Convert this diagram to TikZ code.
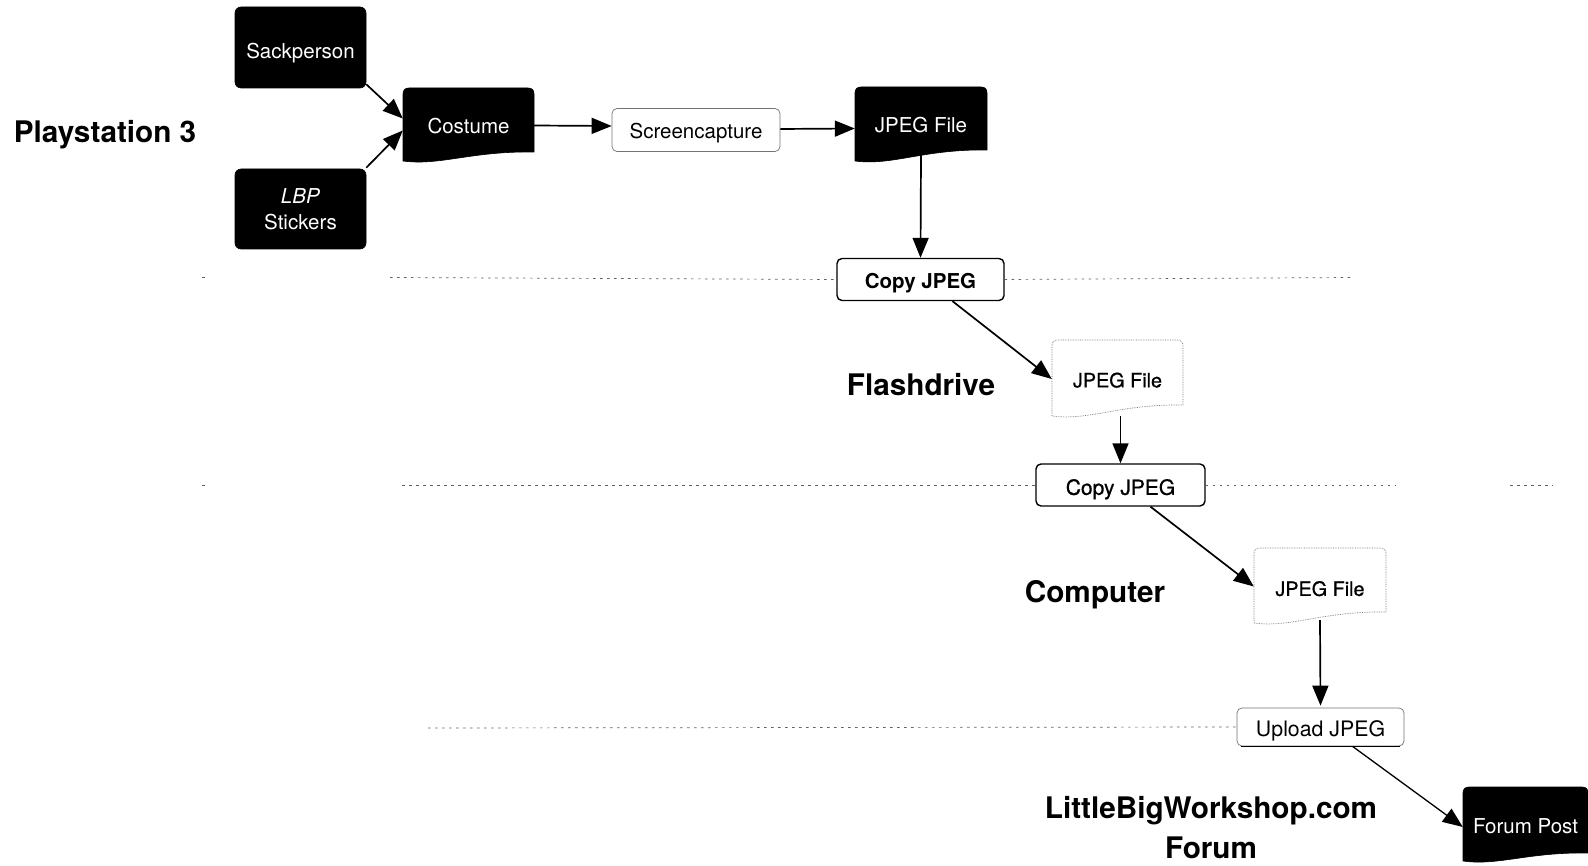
\documentclass[tikz,border=0pt]{standalone}
\usepackage{fontspec}
\setmainfont{TeX Gyre Heros}
\newfontfamily\semib[FakeBold=0.7]{TeX Gyre Heros}
\usetikzlibrary{arrows.meta}
\newcommand{\fsz}[1]{\fontsize{#1}{#1}\selectfont}
\newcommand{\dn}[2]{\raisebox{-#1pt}[\height][0pt]{#2}}
\tikzset{
  x=1pt,y=-1pt,
  arr/.style={line width=1.7pt,draw=black,-{Triangle[length=20pt,width=16pt]},shorten >=0pt},
  arrthin/.style={arr,line width=1.3pt},
  sep/.style={draw=black!62,line width=0.7pt,dash pattern=on 2.5pt off 4.5pt},
  darktext/.style={text=white,font=\fsz{20.5},align=center,inner sep=0pt},
  lighttext/.style={text=black,font=\fsz{20.5},align=center,inner sep=0pt},
  darkbox/.style={fill=black,draw=black,line width=0.6pt,rounded corners=6pt},
  darkdoc/.style={fill=black,draw=black,line width=0.6pt},
  graybox/.style={fill=white,draw=black!55,line width=0.7pt,rounded corners=5pt},
  strongbox/.style={fill=white,draw=black,line width=1.4pt,rounded corners=5pt},
  paperbox/.style={fill=white,draw=black!55,line width=0.7pt,densely dotted},
  heading/.style={font=\bfseries\fsz{29.7},text=black,inner sep=0pt,align=center},
}
% name, x1, y1, x2, yleft, yright, box style, text style, text
\newcommand{\docbox}[9]{%
  \pgfmathsetmacro{\wv}{#4-#2}%
  \pgfmathsetmacro{\xa}{#2+0.28*\wv}%
  \pgfmathsetmacro{\xb}{#2+0.52*\wv}%
  \pgfmathsetmacro{\ylo}{#5+3}%
  \pgfmathsetmacro{\yhi}{#6-1}%
  \draw[#7] (#2+6,#3) -- (#4-6,#3) .. controls (#4-2,#3) and (#4,#3+2) .. (#4,#3+6)
     -- (#4,#6) .. controls (\xb,\yhi) and (\xa,\ylo) .. (#2,#5-2)
     -- (#2,#3+6) .. controls (#2,#3+2) and (#2+2,#3) .. (#2+6,#3) -- cycle;
  \pgfmathsetmacro{\cx}{(#2+#4)/2}%
  \pgfmathsetmacro{\cy}{(#3+#5)/2}%
  \node[#8,minimum width=#4 pt-#2 pt,minimum height=#5 pt-#3 pt] (#1) at (\cx,\cy) {#9};
}
\begin{document}
\begin{tikzpicture}
\useasboundingbox[fill=white] (0,0) rectangle (1588,866);

% separator end points
\coordinate (a0) at (202,277.5); \coordinate (a0b) at (206,277.5);
\coordinate (a1) at (390,277.5); \coordinate (a2) at (1352,277.5);
\coordinate (b0) at (202,485); \coordinate (b0b) at (206,485);
\coordinate (b1) at (402,485); \coordinate (b2) at (1395,485);
\coordinate (b3) at (1510,485); \coordinate (b4) at (1553,485);
\coordinate (c1) at (428,728);

% source boxes
\node[darkbox,darktext,minimum width=131pt,minimum height=81pt] (sack) at (300.5,47.5) {\dn{3}{Sackperson}};
\node[darkbox,darktext,minimum width=131pt,minimum height=80pt] (lbp) at (300.5,209) {\textit{LBP}\\[5pt]Stickers};
\docbox{cost}{403}{88}{534}{163}{152}{darkdoc}{darktext}{\dn{0}{Costume}}
\node[graybox,lighttext,minimum width=168pt,minimum height=43pt] (scr) at (696,130) {\dn{1}{Screencapture}};
\docbox{jp1}{855}{87}{987}{163}{150}{darkdoc}{darktext}{\dn{0}{JPEG File}}

\node[strongbox,lighttext,font=\bfseries\fsz{20.5},minimum width=167pt,minimum height=42pt] (cp1) at (920.5,279.5) {\dn{1}{Copy JPEG}};
\docbox{jp2}{1052}{340}{1183}{418}{405}{paperbox}{lighttext,font=\semib\fsz{19.8}}{\dn{1}{JPEG File}}
\node[strongbox,lighttext,font=\semib\fsz{21},minimum width=169pt,minimum height=42pt] (cp2) at (1120.5,485) {\dn{2}{Copy JPEG}};
\docbox{jp3}{1254}{548}{1386}{625}{612}{paperbox}{lighttext,font=\semib\fsz{19.8}}{\dn{2}{JPEG File}}
\node[graybox,lighttext,font=\fsz{21.3},minimum width=167pt,minimum height=38pt] (up) at (1320.5,727) {\dn{2}{Upload JPEG}};
\docbox{fp}{1463}{787}{1588}{863}{853}{darkdoc}{darktext}{\dn{1}{Forum Post}}

% heavier lower edge
\draw[line width=1.2pt] ([xshift=4pt]up.south west) -- ([xshift=-4pt]up.south east);

% headings
\node[heading] (hps) at (105,135) {Playstation 3};
\node[heading] (hfd) at (921,385) {Flashdrive};
\node[heading] (hpc) at (1095,595) {Computer};
\node[heading] (hlb) at (1211,811) {LittleBigWorkshop.com};
\node[heading] (hfo) at (1211,848) {Forum};

% separators
\draw[sep] (a0) -- (a0b);
\draw[sep] (a1) -- (cp1.west);
\draw[sep] (cp1.east) -- (a2);
\draw[sep] (b0) -- (b0b);
\draw[sep] (b1) -- (cp2.west);
\draw[sep] (cp2.east) -- (b2);
\draw[sep] (b3) -- (b4);
\draw[sep] (c1) -- (up.west);

% connectors
\draw[arr] (sack.south east) ++(0,-4) -- ([yshift=7pt]cost.west);
\draw[arr] (lbp.north east) ++(0,-1) -- ([yshift=-5pt]cost.west);
\draw[arr] (cost.east) -- ([yshift=4pt]scr.west);
\draw[arr] ([yshift=1pt]scr.east) -- ([yshift=-3.5pt]jp1.west);
\draw[arr] ([yshift=8pt]jp1.south) -- (cp1.north);
\draw[arr] ([xshift=32pt]cp1.south) -- (jp2.west);
\draw[arr] ([xshift=3pt,yshift=2pt]jp2.south) -- (cp2.north);
\draw[arr] ([xshift=30pt]cp2.south) -- (jp3.west);
\draw[arr] ([yshift=5pt]jp3.south) -- ([yshift=2pt]up.north);
\draw[arrthin] ([xshift=32pt]up.south) -- ([yshift=-2pt]fp.west);
\end{tikzpicture}
\end{document}
